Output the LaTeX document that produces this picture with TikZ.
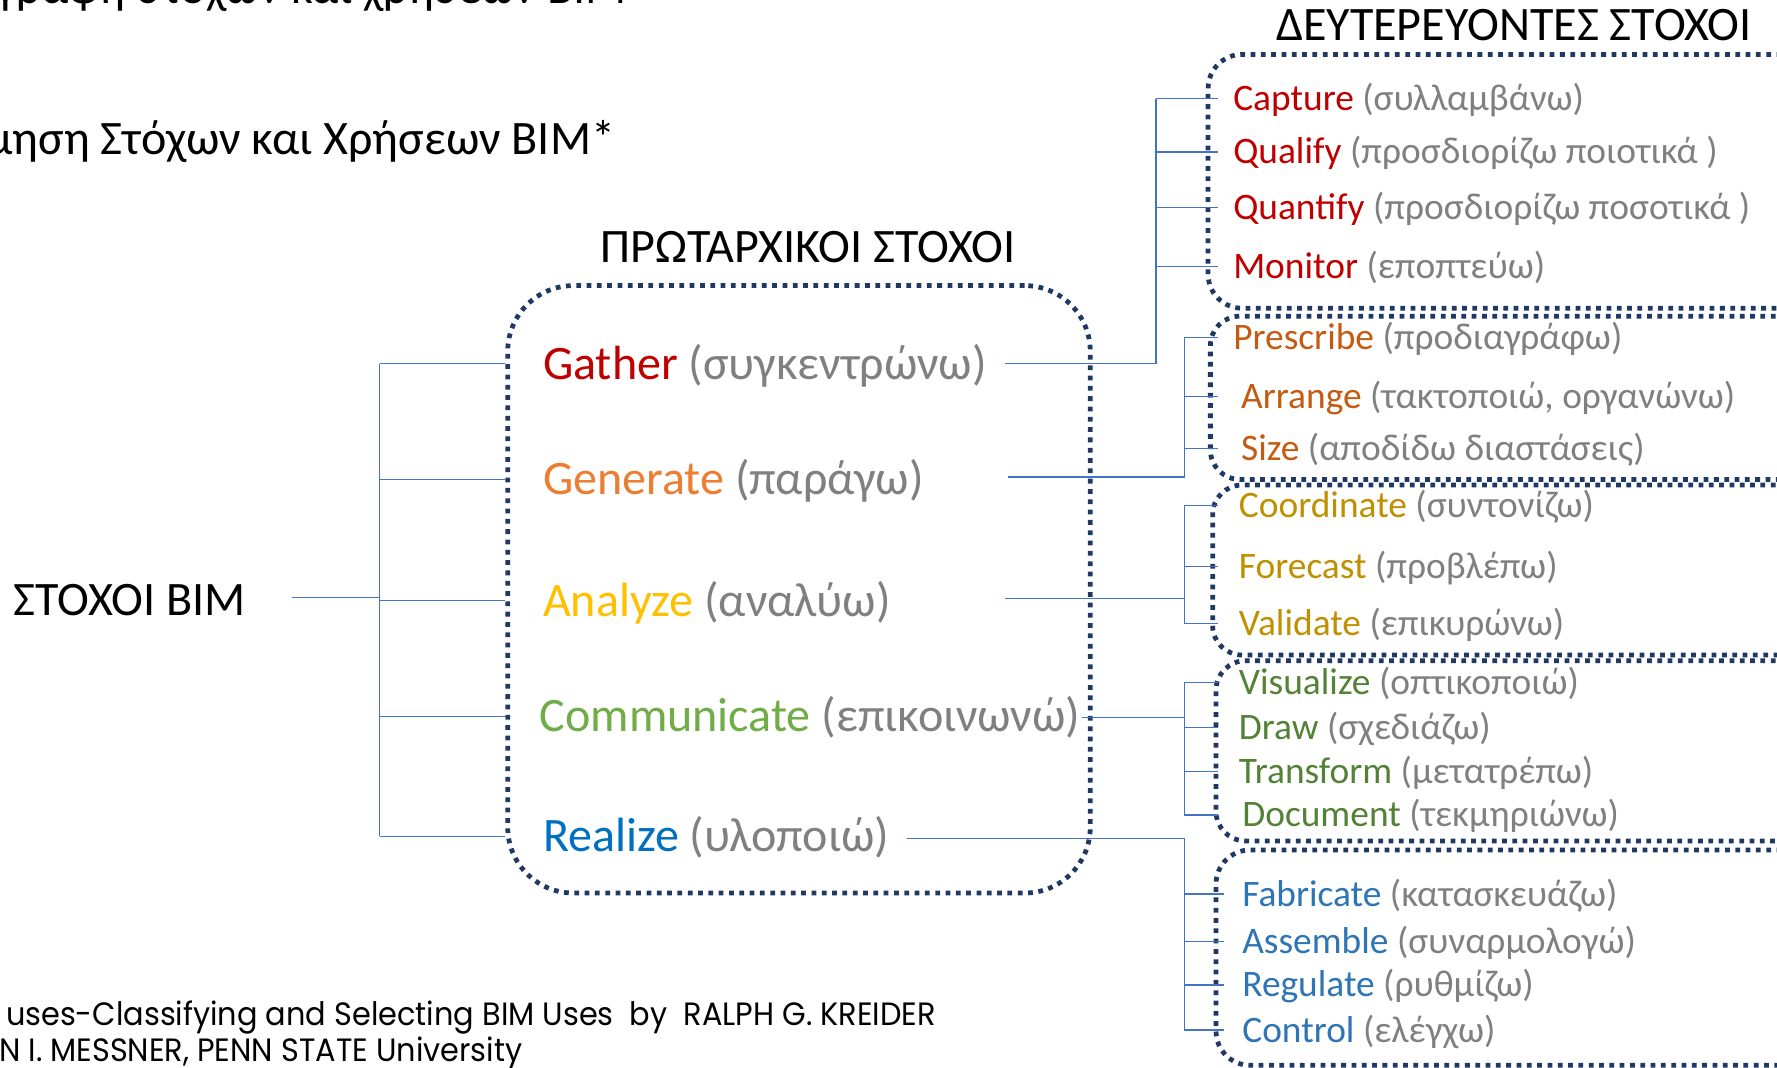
\documentclass[tikz,border=0pt]{standalone}
\usepackage{fontspec}
\setmainfont{Carlito}
\newfontfamily\footfont[FakeStretch=0.94]{Poppins}
\usetikzlibrary{calc}
\definecolor{cRed}{HTML}{C00000}
\definecolor{cOrange}{HTML}{ED7D31}
\definecolor{cOrangeD}{HTML}{C55A11}
\definecolor{cYellow}{HTML}{FFC000}
\definecolor{cYellowD}{HTML}{BF9000}
\definecolor{cGreen}{HTML}{70AD47}
\definecolor{cGreenD}{HTML}{538135}
\definecolor{cBlue}{HTML}{0070C0}
\definecolor{cBlueD}{HTML}{2E75B6}
\definecolor{gry}{HTML}{808080}
\definecolor{navy}{HTML}{1F3864}
\definecolor{lineblue}{HTML}{4472C4}
\begin{document}
\begin{tikzpicture}[x=1pt,y=-1pt,
  conn/.style={draw=lineblue, line width=1.2pt},
  dotbox/.style={draw=navy, line width=4.2pt, dash pattern=on 4.2pt off 4.9pt, rounded corners=#1, inner sep=0pt},
  primtxt/.style={font=\fontsize{42.4}{50}\selectfont, anchor=west, inner sep=0pt, text height=36pt, text depth=8.7pt},
  sectxt/.style={font=\fontsize{33}{40}\selectfont, anchor=west, inner sep=0pt, text height=28.4pt, text depth=7.1pt},
  head/.style={font=\fontsize{42.4}{50}\selectfont, inner sep=0pt},
  foot/.style={font=\footfont\fontsize{28.5}{33}\selectfont, inner sep=0pt, anchor=base east}
]
\useasboundingbox (0,0) rectangle (1568,942);
\fill[white] (0,0) rectangle (1568,942);

% titles
\node[head, anchor=base east] (t1) at (553,3) {γραφή στόχων και χρήσεων BIM};
\node[head, anchor=base east] (t2) at (543,136) {μηση Στόχων και Χρήσεων BIM*};
\node[head, anchor=base] (hp) at (713,232) {ΠΡΩΤΑΡΧΙΚΟΙ ΣΤΟΧΟΙ};
\node[head, anchor=base] (hs) at (1336,36) {ΔΕΥΤΕΡΕΥΟΝΤΕΣ ΣΤΟΧΟΙ};
\node[head, anchor=base west] (root) at (12,543) {ΣΤΟΧΟΙ BIM};

% footnote
\node[foot] (f1) at (826,905) {uses-Classifying and Selecting BIM Uses\ \ by\ \ RALPH G. KREIDER};
\node[foot] (f2) at (461,937) {N I. MESSNER, PENN STATE University};

% boxes
\node[dotbox=58pt, minimum width=514pt, minimum height=536pt] (prim) at (705,520) {};
\node[dotbox=30pt, minimum width=554pt, minimum height=224pt] (bR) at (1343,160) {};
\node[dotbox=26pt, minimum width=552pt, minimum height=144pt] (bO) at (1344,351) {};
\node[dotbox=26pt, minimum width=550pt, minimum height=150pt] (bY) at (1345,503) {};
\node[dotbox=26pt, minimum width=547pt, minimum height=159pt] (bG) at (1346.5,662.5) {};
\node[dotbox=30pt, minimum width=547pt, minimum height=190pt] (bB) at (1346.5,845) {};

% primary items
\node[primtxt, text=cRed] (gather) at (479,321) {Gather \textcolor{gry}{(συγκεντρώνω)}};
\node[primtxt, text=cOrange] (generate) at (479,423) {Generate \textcolor{gry}{(παράγω)}};
\node[primtxt, text=cYellow] (analyze) at (479,530) {Analyze \textcolor{gry}{(αναλύω)}};
\node[primtxt, text=cGreen] (communicate) at (476,632) {Communicate \textcolor{gry}{(επικοινωνώ)}};
\node[primtxt, text=cBlue] (realize) at (479,738) {Realize \textcolor{gry}{(υλοποιώ)}};

% secondary items
\node[sectxt, text=cRed] (cap) at (1088,87) {Capture \textcolor{gry}{(συλλαμβάνω)}};
\node[sectxt, text=cRed] (qual) at (1088,134) {Qualify \textcolor{gry}{(προσδιορίζω ποιοτικά )}};
\node[sectxt, text=cRed] (quant) at (1088,183) {Quantify \textcolor{gry}{(προσδιορίζω ποσοτικά )}};
\node[sectxt, text=cRed] (mon) at (1088,235) {Monitor \textcolor{gry}{(εποπτεύω)}};

\node[sectxt, text=cOrangeD] (pre) at (1088,298) {Prescribe \textcolor{gry}{(προδιαγράφω)}};
\node[sectxt, text=cOrangeD] (arr) at (1095,350) {Arrange \textcolor{gry}{(τακτοποιώ, οργανώνω)}};
\node[sectxt, text=cOrangeD] (siz) at (1095,396) {Size \textcolor{gry}{(αποδίδω διαστάσεις)}};

\node[sectxt, text=cYellowD] (coo) at (1093,446) {Coordinate \textcolor{gry}{(συντονίζω)}};
\node[sectxt, text=cYellowD] (fore) at (1093,500) {Forecast \textcolor{gry}{(προβλέπω)}};
\node[sectxt, text=cYellowD] (val) at (1093,550) {Validate \textcolor{gry}{(επικυρώνω)}};

\node[sectxt, text=cGreenD] (vis) at (1093,602) {Visualize \textcolor{gry}{(οπτικοποιώ)}};
\node[sectxt, text=cGreenD] (drw) at (1093,642) {Draw \textcolor{gry}{(σχεδιάζω)}};
\node[sectxt, text=cGreenD] (trf) at (1093,681) {Transform \textcolor{gry}{(μετατρέπω)}};
\node[sectxt, text=cGreenD] (doc) at (1096,719) {Document \textcolor{gry}{(τεκμηριώνω)}};

\node[sectxt, text=cBlueD] (fab) at (1096,789) {Fabricate \textcolor{gry}{(κατασκευάζω)}};
\node[sectxt, text=cBlueD] (asm) at (1096,831) {Assemble \textcolor{gry}{(συναρμολογώ)}};
\node[sectxt, text=cBlueD] (reg) at (1096,869) {Regulate \textcolor{gry}{(ρυθμίζω)}};
\node[sectxt, text=cBlueD] (con) at (1096,909) {Control \textcolor{gry}{(ελέγχω)}};

% left tree
\coordinate (rootOut) at (258,527);
\coordinate (tL) at (335,527);
\draw[conn] (rootOut) -- (tL);
\draw[conn] (tL |- gather.west) -- (tL |- realize.west);
\foreach \n in {gather,generate,analyze,communicate,realize}
  \draw[conn] (tL |- \n.west) -- (prim.west |- \n.west);

% right connectors
\coordinate (eX) at (1075,0);
\coordinate (eXb) at (1080,0);
% Gather
\coordinate (gOut) at (887,321);
\coordinate (gJ) at (1020,321);
\draw[conn] (gOut) -- (gJ) -- (gJ |- cap.west);
\foreach \n in {cap,qual,quant,mon}
  \draw[conn] (gJ |- \n.west) -- (eX |- \n.west);
% Generate
\coordinate (nOut) at (889,421);
\coordinate (nJ) at (1045,421);
\draw[conn] (nOut) -- (nJ) -- (nJ |- pre.west);
\foreach \n in {pre,arr,siz}
  \draw[conn] (nJ |- \n.west) -- (eX |- \n.west);
% Analyze
\coordinate (aOut) at (887,528);
\coordinate (aJ) at (1045,528);
\draw[conn] (aOut) -- (aJ);
\draw[conn] (aJ |- coo.west) -- (aJ |- val.west);
\foreach \n in {coo,fore,val}
  \draw[conn] (aJ |- \n.west) -- (eX |- \n.west);
% Communicate
\coordinate (cOut) at (955,633);
\coordinate (cJ) at (1045,633);
\draw[conn] (cOut) -- (cJ);
\draw[conn] (cJ |- vis.west) -- (cJ |- doc.west);
\foreach \n in {vis,drw,trf,doc}
  \draw[conn] (cJ |- \n.west) -- (eX |- \n.west);
% Realize
\coordinate (rOut) at (800,740);
\coordinate (rJ) at (1045,740);
\draw[conn] (rOut) -- (rJ) -- (rJ |- con.west);
\foreach \n in {fab,asm,reg,con}
  \draw[conn] (rJ |- \n.west) -- (eXb |- \n.west);
\end{tikzpicture}
\end{document}
